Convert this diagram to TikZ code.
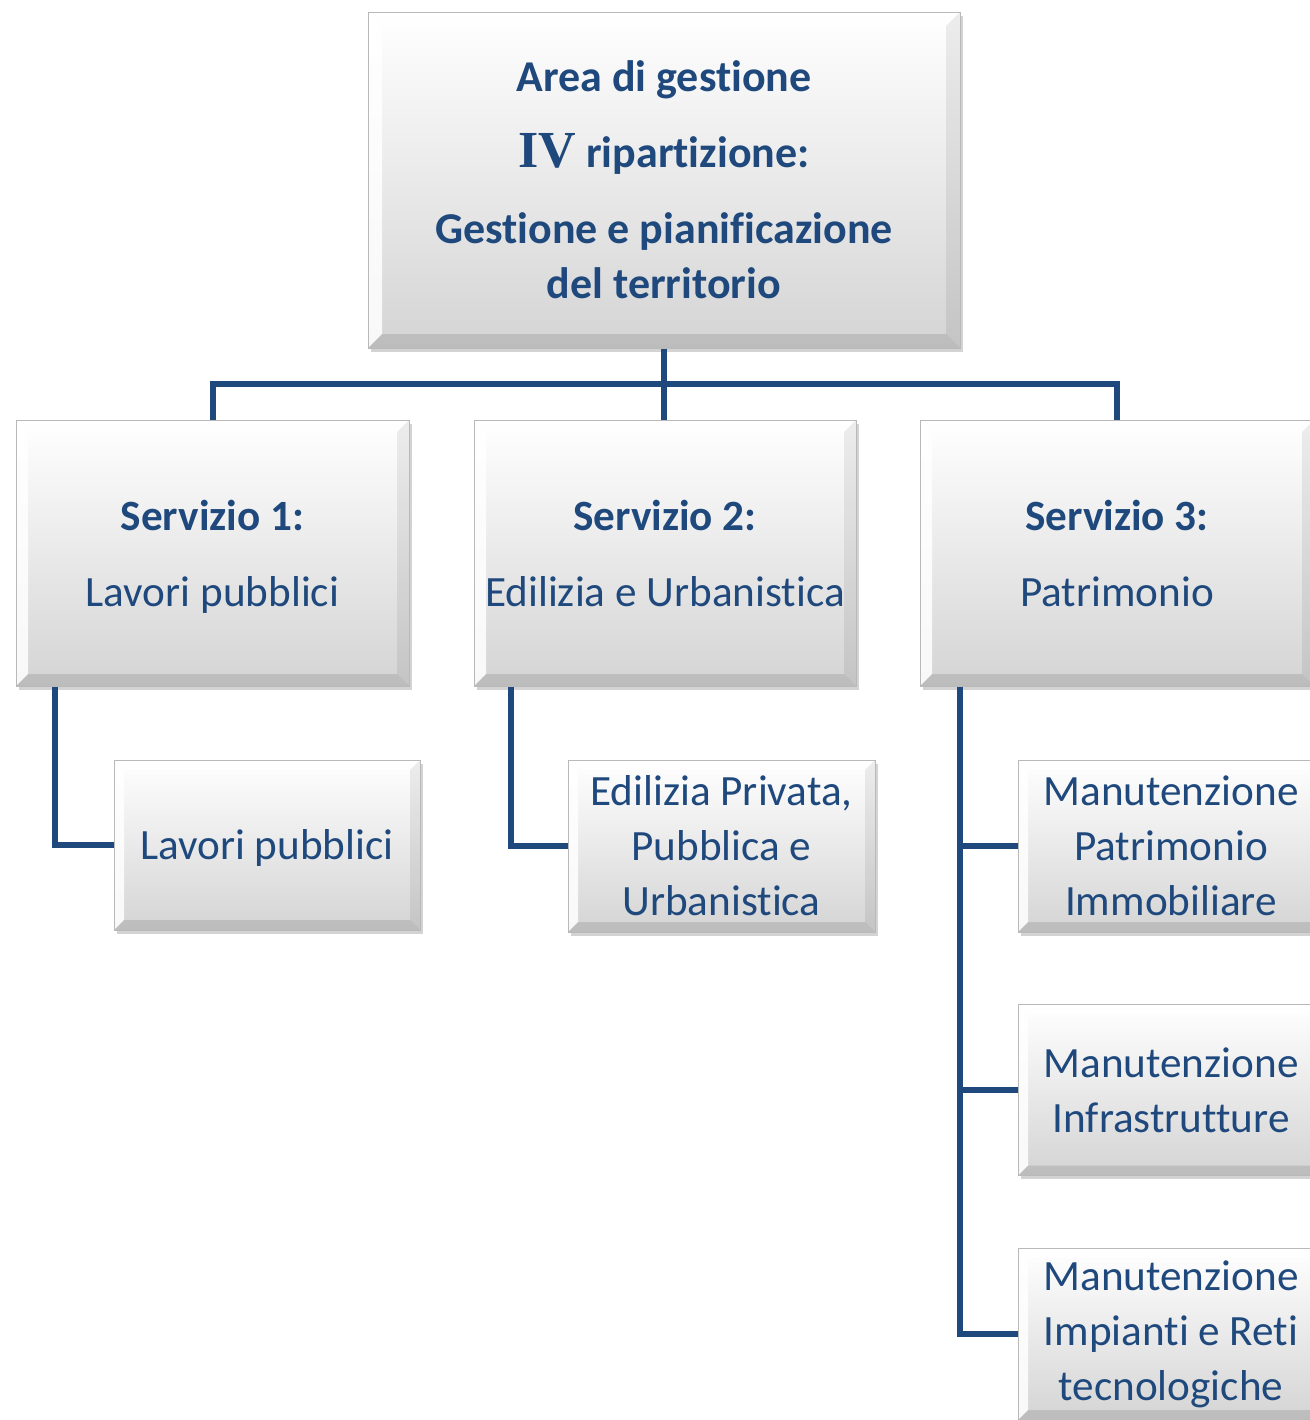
\documentclass[tikz,border=0pt]{standalone}
\usepackage{fontspec}
\setmainfont{Carlito}[Ligatures=NoCommon]
\newfontfamily\romanfont{Liberation Serif}
\usetikzlibrary{positioning, shadows}
\definecolor{ripblue}{RGB}{31, 73, 125}
\definecolor{bevelgray}{RGB}{212, 212, 212}

\tikzset{
  bevelbox/.style={rectangle, draw=gray!55, line width=0.5pt,
    top color=white, bottom color=bevelgray,
    drop shadow={opacity=0.35, shadow xshift=1.5pt, shadow yshift=-1.8pt},
    text=ripblue, align=center, inner sep=0pt,
    font=\fontsize{21.6}{27.5}\selectfont,
    path picture={
      \path (path picture bounding box.north west) coordinate (bnw)
            (path picture bounding box.south east) coordinate (bse)
            (bnw |- bse) coordinate (bsw)
            (bse |- bnw) coordinate (bne);
      % light edges
      \fill[white, opacity=0.85] (bnw) -- (bsw) -- ([shift={(#1,#1)}]bsw) -- ([shift={(#1,-#1)}]bnw) -- cycle;
      \fill[white, opacity=0.6] (bnw) -- (bne) -- ([shift={(-#1,-#1)}]bne) -- ([shift={(#1,-#1)}]bnw) -- cycle;
      % dark edges
      \fill[black, opacity=0.07] (bne) -- (bse) -- ([shift={(-#1,#1)}]bse) -- ([shift={(-#1,-#1)}]bne) -- cycle;
      \fill[black, opacity=0.11] (bsw) -- (bse) -- ([shift={(-#1,#1)}]bse) -- ([shift={(#1,#1)}]bsw) -- cycle;
    }},
  bevelbox/.default=5pt,
  link/.style={draw=ripblue, line width=3pt}
}

\begin{document}
\begin{tikzpicture}[x=0.5pt, y=-0.5pt]
  \clip (0,0) rectangle (1310,1420);

  % head of the area
  \node[bevelbox=7pt, minimum width=296pt, minimum height=168pt,
        font=\fontsize{22}{27.5}\selectfont\bfseries] (area) at (664,180)
    {Area di gestione\\[10.5pt]{\romanfont\fontsize{26}{27.5}\selectfont IV} ripartizione:\\[10.5pt]Gestione e pianificazione\\del territorio};

  % services
  \node[bevelbox=6pt, minimum width=196.5pt, minimum height=133pt] (serv1) at (212.5,553)
    {{\bfseries Servizio 1:}\\[10.5pt]Lavori \smash{pubblici}};
  \node[bevelbox=6pt, minimum width=191pt, minimum height=133pt] (serv2) at (665,553)
    {{\bfseries Servizio 2:}\\[10.5pt]Edilizia e Urbanistica};
  \node[bevelbox=6pt, minimum width=197pt, minimum height=133pt] (serv3) at (1117,553)
    {{\bfseries Servizio 3:}\\[10.5pt]Patrimonio};

  % offices
  \node[bevelbox, minimum width=153pt, minimum height=85pt] (lp) at (267,845) {Lavori \smash{pubblici}};
  \node[bevelbox, minimum width=153.5pt, minimum height=86pt] (edp) at (721.5,846)
    {Edilizia Privata,\\Pubblica e\\Urbanistica};
  \node[bevelbox, minimum width=153pt, minimum height=86pt] (mpi) at (1171,846)
    {Manutenzione\\Patrimonio\\Immobiliare};
  \node[bevelbox, minimum width=153pt, minimum height=85.5pt] (minf) at (1171,1090)
    {Manutenzione\\Infrastrutture};
  \node[bevelbox, minimum width=153pt, minimum height=86pt] (mirt) at (1171,1334)
    {Manutenzione\\Impianti e Reti\\tecnologiche};

  % connectors
  \coordinate (bus) at (664,384);
  \draw[link] (area.south) -- (area.south |- serv2.north);
  \draw[link] (serv1.north) |- (bus) -| (serv3.north);
  \draw[link] ([xshift=19.5pt]serv1.south west) |- (lp.west);
  \draw[link] ([xshift=18.5pt]serv2.south west) |- (edp.west);
  \coordinate (trunk) at ([xshift=20pt]serv3.south west);
  \draw[link] (trunk) |- (mirt.west);
  \draw[link] (trunk |- mpi.west) -- (mpi.west);
  \draw[link] (trunk |- minf.west) -- (minf.west);
\end{tikzpicture}
\end{document}
